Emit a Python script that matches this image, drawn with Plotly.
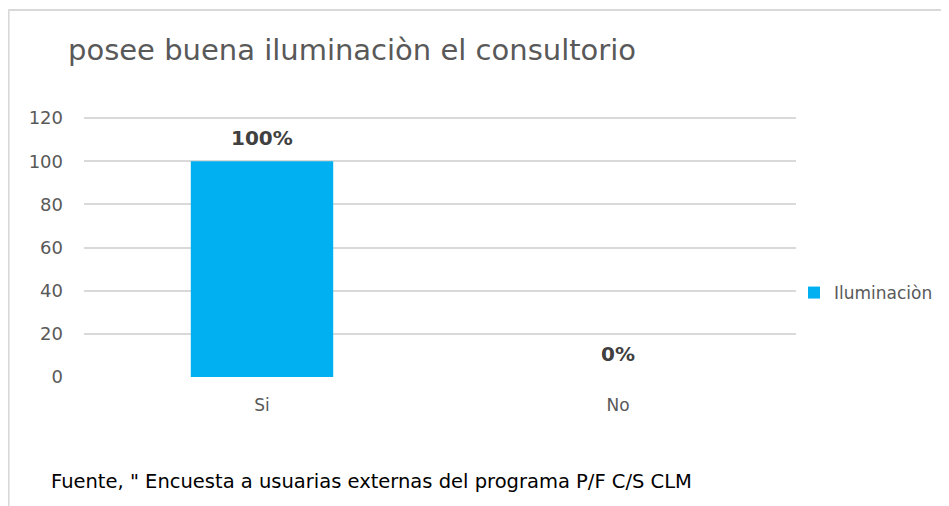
import plotly.graph_objects as go

categories = ["Si", "No"]
values = [100, 0]
series_name = "Iluminaciòn"
title_text = "posee buena iluminaciòn el consultorio"
footer_text = 'Fuente, " Encuesta a usuarias externas del programa P/F C/S CLM'
y_ticks = [0, 20, 40, 60, 80, 100, 120]

FONT = "DejaVu Sans"
GRAY = "#595959"

# figure coordinates (page body has 8px margin)
W, H = 941, 498
L, R, T, B = 76, 789, 108, 369
PW, PH = R - L, B - T

def px(x):
    return (x - L) / PW

def py(y):
    return (B - y) / PH

fig = go.Figure()
fig.add_trace(go.Bar(
    x=categories, y=values, name=series_name,
    marker=dict(color="#00B0F0", line=dict(width=0)),
    width=0.4, showlegend=True,
))

for c, v in zip(categories, values):
    fig.add_annotation(x=c, y=v, xref="x", yref="y", text=f"<b>{v}%</b>",
                       showarrow=False, yanchor="bottom", yshift=9,
                       font=dict(family=FONT, size=20, color="#404040"))

fig.add_annotation(x=px(41), y=py(473), xref="paper", yref="paper",
                   text=footer_text, showarrow=False, xanchor="left", yanchor="middle",
                   font=dict(family=FONT, size=19.5, color="#000000"))

# frame lines (top and left)
fig.add_shape(type="line", xref="paper", yref="paper",
              x0=px(0), x1=px(W), y0=py(2), y1=py(2),
              line=dict(color="#D9D9D9", width=2))
fig.add_shape(type="line", xref="paper", yref="paper",
              x0=px(0.5), x1=px(0.5), y0=py(2), y1=py(H),
              line=dict(color="#D9D9D9", width=2))

fig.update_layout(
    width=W, height=H,
    margin=dict(l=L, r=W - R, t=T, b=H - B),
    paper_bgcolor="white", plot_bgcolor="white",
    title=dict(text=title_text, x=60 / W, xanchor="left", xref="container",
               y=1 - 42 / H, yanchor="middle", yref="container",
               font=dict(family=FONT, size=29, color=GRAY)),
    legend=dict(x=px(786), y=py(285), xanchor="left", yanchor="middle",
                font=dict(family=FONT, size=17, color=GRAY),
                itemwidth=30, bgcolor="rgba(0,0,0,0)"),
)
fig.update_yaxes(range=[0, 121], tickvals=y_ticks, showgrid=True, gridcolor="#D9D9D9",
                 gridwidth=1.5, zeroline=False, showline=False,
                 tickfont=dict(family=FONT, size=18, color=GRAY), ticklabelstandoff=20)
fig.update_xaxes(showgrid=False, showline=False, zeroline=False,
                 tickfont=dict(family=FONT, size=17, color=GRAY), ticklabelstandoff=16)

fig.write_html("out.html")
